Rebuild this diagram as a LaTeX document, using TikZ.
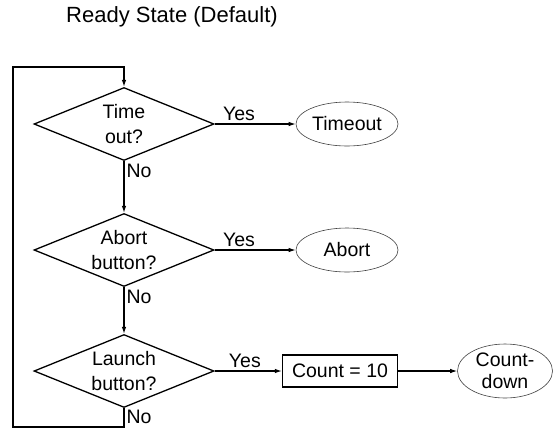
\documentclass[tikz,border=0pt]{standalone}
\usepackage{fontspec}
\setmainfont{Liberation Sans}
\usetikzlibrary{shapes.geometric,arrows.meta}

\tikzset{
  txt/.style={font=\fontsize{19.5}{24.5}\selectfont},
  decision/.style={diamond,draw,line width=1.3pt,shape aspect=2.45,minimum width=180pt,minimum height=73pt,inner sep=0pt,align=center,txt},
  terminal/.style={ellipse,draw=black!75,line width=.6pt,minimum width=102pt,minimum height=44pt,inner sep=0pt,align=center,txt},
  process/.style={rectangle,draw,line width=1.3pt,minimum width=115pt,minimum height=32pt,inner sep=0pt,txt},
  flow/.style={line width=1.1pt,-{Latex[length=7pt,width=4.5pt]}},
}

\begin{document}
\begin{tikzpicture}[x=1pt,y=-1pt]
  \useasboundingbox (0,0) rectangle (553,429);
  \node[font=\fontsize{22}{26}\selectfont] (title) at (172,17) {Ready State (Default)};

  \node[decision] (d1) at (124,124) {Time\\out?};
  \node[decision] (d2) at (124,250) {Abort\\button?};
  \node[decision] (d3) at (124,371) {Launch\\button?};

  \node[terminal] (timeout) at (347,124) {Timeout};
  \node[terminal] (abort) at (347,250) {Abort};
  \node[process] (count) at (340,371) {Count = 10};
  \node[terminal,minimum width=95pt,minimum height=54pt,font=\fontsize{19.5}{22}\selectfont] (cdown) at (505,371) {Count-\\down};

  \coordinate (lb) at (13,427);
  \coordinate (lt) at (13,67);

  % no branches
  \draw[flow] (d1.south) -- node[pos=0,anchor=north west,inner sep=2pt,txt]{No} (d2.north);
  \draw[flow] (d2.south) -- node[pos=0,anchor=north west,inner sep=2pt,txt]{No} (d3.north);
  \draw[flow] (d3.south) |- node[pos=0,anchor=north west,inner xsep=2pt,inner ysep=1pt,txt]{No} (lb) -- (lt) -| (d1.north);

  % yes branches
  \draw[flow] (d1.east) -- node[pos=.3,above,inner sep=3pt,txt]{Yes} (timeout.west);
  \draw[flow] (d2.east) -- node[pos=.3,above,inner sep=3pt,txt]{Yes} (abort.west);
  \draw[flow] (d3.east) -- node[pos=.45,above,inner sep=3pt,txt]{Yes} (count.west);
  \draw[flow] (count.east) -- (cdown.west);
\end{tikzpicture}
\end{document}
